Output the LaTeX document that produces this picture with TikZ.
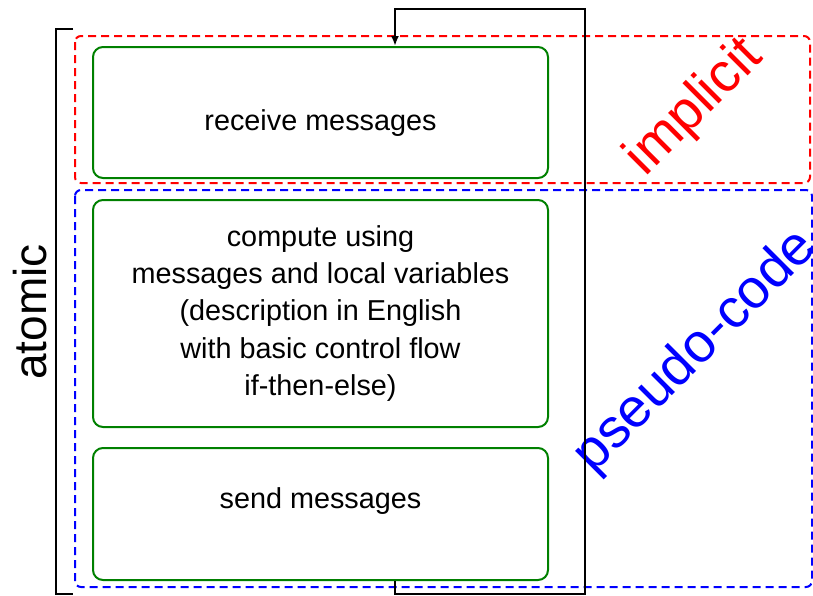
\documentclass[tikz,border=0pt]{standalone}
\usepackage{fontspec}
\setmainfont{Liberation Sans}
\usetikzlibrary{positioning, arrows.meta}

\begin{document}
\begin{tikzpicture}[x=0.5pt, y=-0.5pt,
        box/.style = {draw, green!50!black, line width=1pt, rounded corners=5pt, minimum width=227.5pt, text=black, font=\fontsize{14.4}{18.6}\selectfont, align=center, inner sep=0pt},%
        word/.style = {text=black, font=\fontsize{14.4}{18.6}\selectfont},%
        zone/.style = {dash pattern=on 4pt off 2.5pt, line width=1pt, rounded corners=3pt},%
        arrow/.style = {-{Latex[length=5pt, width=4pt]}, line width=1pt},%
        tag/.style = {font=\fontsize{27.5}{27.5}\selectfont, rotate=45}%
    ]%
        \useasboundingbox (0,0) rectangle (813,595);
        \node[box, minimum height=65.5pt, label={[word, yshift=-5.5pt]center:receive messages}] (receive) at (320.5,112.5) {};
        \node[box, minimum height=113.5pt, below=10pt of receive] (compute) {compute using\\messages and local variables\\(description in English\\with basic control flow\\if-then-else)};
        \node[box, minimum height=66pt, below=9.5pt of compute, label={[word, yshift=6.5pt]center:send messages}] (send) {};
        \draw[zone, red] (75,36) rectangle (810,183);
        \draw[zone, blue] (75,190) rectangle (812,587);
        \node[tag, red] (implicit) at (695,108) {implicit};
        \node[tag, blue] (pseudo) at (696,352) {pseudo-code};
        \node[rotate=90, font=\fontsize{23}{23}\selectfont] (atomic) at (30,312) {atomic};
        \draw[line width=1pt] (73,29) -| (56,594) -- (73,594);
        \coordinate (tap) at (395,9);
        \coordinate (turn) at (585,594);
        \draw[arrow] (send.south -| tap) |- (turn) |- (tap) -- (receive.north -| tap);
    \end{tikzpicture}
\end{document}
